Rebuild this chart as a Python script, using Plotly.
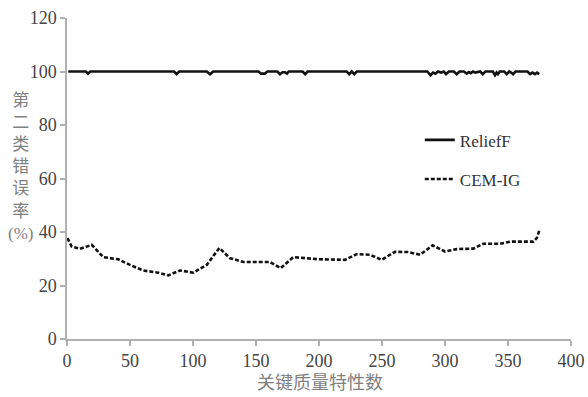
import plotly.graph_objects as go

# ReliefF series (feature count, type-II error rate %)
relieff_x = [1, 15, 16.7, 18.5, 85, 87, 89, 111, 113.5, 116, 152, 154, 157, 159,
             167, 169, 171, 173, 174.6, 176, 187, 189, 191, 222, 224, 226, 228,
             230, 232, 286, 288.5, 290.5, 292.5, 294.4, 297, 299, 300.8, 303, 307,
             309.3, 311.5, 315, 317.2, 319, 320.5, 322.2, 324, 328, 330, 332, 338,
             339.7, 341, 342, 343.5, 347, 349, 351, 352.5, 354, 356, 365.5, 367.5,
             369.5, 371.4, 373, 374.8]
relieff_y = [100, 100, 99.2, 100, 100, 99, 100, 100, 99, 100, 100, 99.2, 99.2, 100,
             100, 99, 99.7, 99.7, 99.2, 100, 100, 99, 100, 100, 99, 100, 99,
             100, 100, 100, 98.6, 99.6, 99.2, 100, 99.6, 100, 99, 100, 100,
             99, 100, 100, 99.2, 99.8, 99.4, 100, 99.6, 100, 99, 100, 100,
             98.6, 99.6, 99, 100, 100, 99, 100, 99.6, 99, 100, 100, 99,
             99.6, 99, 99.6, 99]

# CEM-IG series
cem_x = [0.3, 3.7, 10.3, 19.6, 28.8, 40.7, 50, 60.6, 72.5, 80.4, 89.7, 100.3,
         110.9, 120.9, 129.4, 140, 161, 169.6, 179.6, 199.5, 220.6, 229.9, 240.5,
         249.7, 260.3, 270.9, 280.2, 290.2, 300, 309.3, 322.5, 330.4, 343.7,
         351.6, 370.1, 372.8, 374.9]
cem_y = [37.7, 34.6, 33.7, 35.2, 30.6, 29.8, 27.7, 25.6, 24.8, 23.8, 25.6, 24.8,
         27.7, 34.0, 30.2, 28.8, 28.8, 26.5, 30.6, 29.8, 29.6, 31.7, 31.5,
         29.6, 32.6, 32.5, 31.5, 35.0, 32.7, 33.6, 33.8, 35.6, 35.6,
         36.4, 36.4, 37.7, 40.6]

x_ticks = [0, 50, 100, 150, 200, 250, 300, 350, 400]
y_ticks = [0, 20, 40, 60, 80, 100, 120]

serif = "Liberation Serif, Noto Sans CJK SC"

fig = go.Figure()
fig.add_trace(go.Scatter(x=relieff_x, y=relieff_y, mode="lines", name="ReliefF",
                         legendgroup="a",
                         line=dict(color="#111111", width=2.6)))
fig.add_trace(go.Scatter(x=cem_x, y=cem_y, mode="lines", name="CEM-IG",
                         legendgroup="b",
                         line=dict(color="#111111", width=2.6, dash="4px,2px")))

axis_common = dict(showgrid=False, zeroline=False, showline=True, automargin=False,
                   linecolor="#b0b0b0", linewidth=1.5, ticks="outside",
                   tickcolor="#b0b0b0", ticklen=5, tickwidth=1.5,
                   tickfont=dict(family=serif, size=18, color="#444444"))

fig.update_xaxes(range=[0, 400], tickvals=x_ticks, **axis_common)
fig.update_yaxes(range=[0, 120], tickvals=y_ticks, **axis_common)

fig.update_layout(
    width=588, height=397,
    margin=dict(l=67, r=17, t=18, b=58),
    plot_bgcolor="white", paper_bgcolor="white",
    showlegend=True,
    legend=dict(x=0.70, y=0.675, xanchor="left", yanchor="top",
                font=dict(family=serif, size=17, color="#333333"),
                tracegroupgap=14, bgcolor="rgba(0,0,0,0)"),
    annotations=[
        dict(text="第<br>二<br>类<br>错<br>误<br>率<br>(%)", xref="paper", yref="paper",
             x=-0.093, y=0.537, xanchor="center", yanchor="middle", showarrow=False,
             font=dict(family=serif, size=17, color="#808080")),
        dict(text="关键质量特性数", xref="paper", yref="paper",
             x=0.502, y=-0.137, xanchor="center", yanchor="middle", showarrow=False,
             font=dict(family=serif, size=18, color="#808080")),
    ],
)

fig.write_html("out.html", config={"displayModeBar": False},
               post_script="document.body.style.margin='0';document.body.style.overflow='hidden';")
